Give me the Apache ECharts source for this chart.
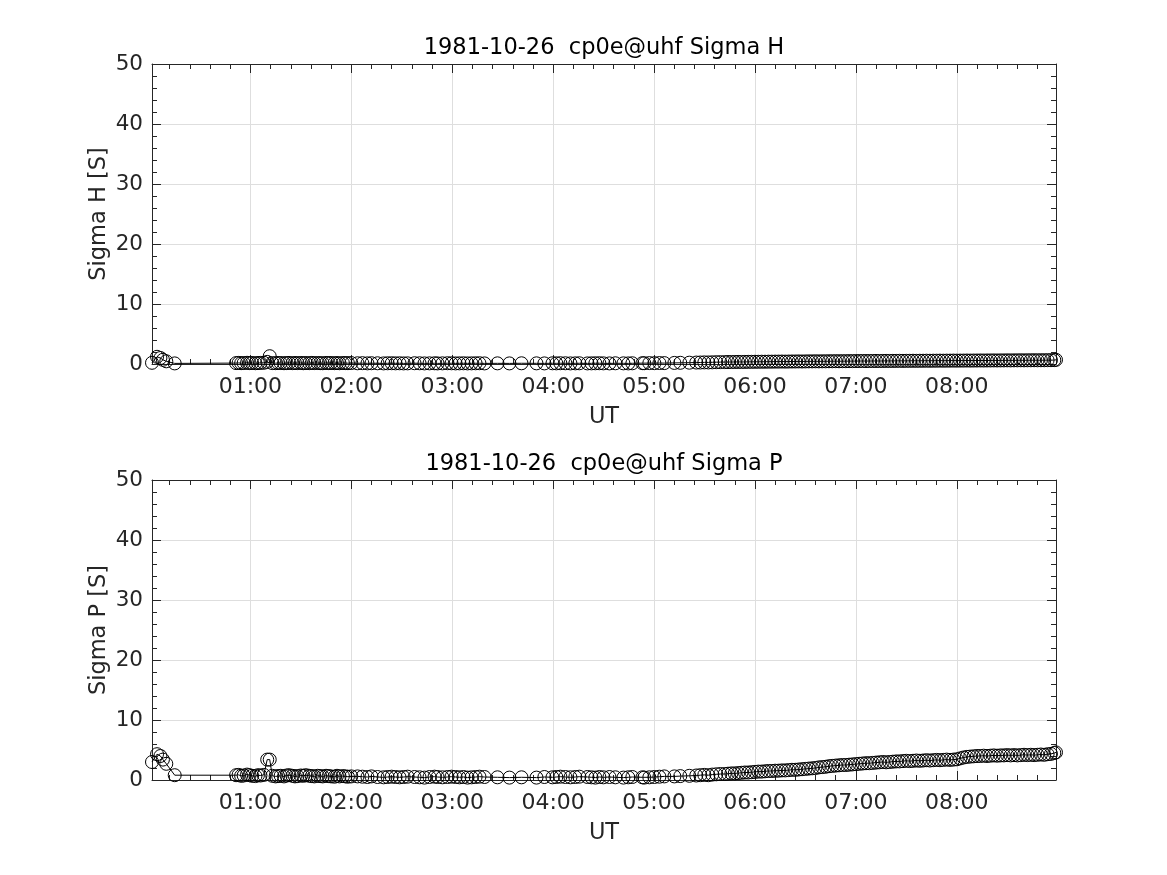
<!DOCTYPE html>
<html>
<head>
<meta charset="utf-8">
<script src="https://cdn.jsdelivr.net/npm/echarts@6/dist/echarts.min.js"></script>
<style>
html,body{margin:0;padding:0;background:#fff;}
#chart{width:1167px;height:875px;}
</style>
</head>
<body>
<div id="chart"></div>
<script>
// ---- data (time in minutes after 00:00 UT) ----
const dateLabel = '1981-10-26';
const expLabel = 'cp0e@uhf';
const titles = ['Sigma H', 'Sigma P'];
const yLabels = ['Sigma H [S]', 'Sigma P [S]'];
const xLabel = 'UT';
const hourTicks = [60, 120, 180, 240, 300, 360, 420, 480];
const yTicks = [0, 10, 20, 30, 40, 50];

const timesMin = [
  1.5, 4.5, 6.5, 8, 10, 15,
  51.5, 53, 54.5, 56, 58, 59.5, 61, 63, 64.5, 66,
  68, 70, 71.5, 73, 75, 76.5, 78, 80, 81.5, 83,
  85, 86.5, 88, 90, 91.5, 93, 95, 96.5, 98, 100,
  101.5, 103, 105, 106.5, 108, 110, 111.5, 113, 115, 116.5,
  118, 120,
  123.7, 126.6, 129.6, 132, 135.6, 139.2, 141.6, 144, 146.3, 148.7,
  151.1, 153.5, 157.6, 160.6, 163.5, 166.5, 169.5, 171.3, 174.2, 177.2,
  179.6, 182, 184.3, 186.7, 189.1, 191.5, 193.9, 196.2, 199.2, 206.9,
  214, 221.2, 230.1, 234.8, 239.6, 241.9, 244.3, 247.3, 250.3, 253.2,
  255.6, 260.4, 262.8, 265.1, 267.5, 269.9, 273.5, 277, 281.8, 284.7,
  287.1, 293.1, 294.2, 297.2, 300.2, 303.2, 306.1, 312.1, 315.6, 321,
  325.1, 327.5, 329.9, 332.3, 334.6, 337, 339.4,
  342, 344, 346, 348, 350, 352, 354, 356, 358, 360,
  362, 364, 366, 368, 370, 372, 374, 376, 378, 380,
  382, 384, 386, 388, 390, 392, 394, 396, 398, 400,
  402, 404, 406, 408, 410, 412, 414, 416, 418, 420,
  422, 424, 426, 428, 430, 432, 434, 436, 438, 440,
  442, 444, 446, 448, 450, 452, 454, 456, 458, 460,
  462, 464, 466, 468, 470, 472, 474, 476, 478, 480,
  482, 484, 486, 488, 490, 492, 494, 496, 498, 500,
  502, 504, 506, 508, 510, 512, 514, 516, 518, 520,
  522, 524, 526, 528, 530, 532, 534, 536, 538, 539
];

const sigmaH = [
  0.2, 1.2, 1.0, 0.7, 0.45, 0.1,
  0.15, 0.18, 0.14, 0.16, 0.2, 0.15, 0.17, 0.13, 0.16, 0.18,
  0.2, 0.35, 1.3, 0.15, 0.14, 0.17, 0.16, 0.13, 0.15, 0.18,
  0.14, 0.16, 0.15, 0.17, 0.13, 0.16, 0.14, 0.18, 0.15, 0.16,
  0.14, 0.13, 0.17, 0.15, 0.16, 0.14, 0.15, 0.13, 0.16, 0.15,
  0.14, 0.16,
  0.12, 0.14, 0.11, 0.13, 0.12, 0.1, 0.12, 0.13, 0.11, 0.12,
  0.1, 0.11, 0.13, 0.12, 0.1, 0.11, 0.12, 0.1, 0.11, 0.13,
  0.12, 0.1, 0.11, 0.12, 0.1, 0.11, 0.12, 0.13, 0.1, 0.11,
  0.1, 0.12, 0.11, 0.1, 0.12, 0.11, 0.13, 0.12, 0.1, 0.11,
  0.12, 0.1, 0.11, 0.12, 0.13, 0.11, 0.1, 0.12, 0.11, 0.1,
  0.12, 0.14, 0.13, 0.15, 0.14, 0.16, 0.15, 0.18, 0.2, 0.22,
  0.24, 0.25, 0.27, 0.26, 0.28, 0.3, 0.31,
  0.32, 0.33, 0.33, 0.34, 0.35, 0.34, 0.35, 0.36, 0.36, 0.37,
  0.37, 0.38, 0.38, 0.39, 0.39, 0.4, 0.4, 0.41, 0.4, 0.41,
  0.42, 0.42, 0.43, 0.42, 0.43, 0.44, 0.44, 0.45, 0.44, 0.45,
  0.45, 0.46, 0.46, 0.47, 0.46, 0.47, 0.47, 0.48, 0.48, 0.49,
  0.49, 0.5, 0.49, 0.5, 0.5, 0.51, 0.5, 0.51, 0.52, 0.51,
  0.52, 0.52, 0.53, 0.52, 0.53, 0.53, 0.54, 0.53, 0.54, 0.54,
  0.55, 0.54, 0.55, 0.55, 0.56, 0.55, 0.56, 0.56, 0.57, 0.56,
  0.57, 0.57, 0.58, 0.57, 0.58, 0.58, 0.59, 0.58, 0.59, 0.59,
  0.6, 0.59, 0.6, 0.6, 0.61, 0.6, 0.61, 0.61, 0.62, 0.61,
  0.62, 0.62, 0.63, 0.62, 0.63, 0.63, 0.64, 0.64, 0.65, 0.7
];

const sigmaP = [
  3.0, 4.3, 4.0, 3.4, 2.7, 0.8,
  0.8, 0.85, 0.7, 0.75, 0.9, 0.8, 0.7, 0.65, 0.8, 0.75,
  0.85, 3.4, 3.4, 0.7, 0.6, 0.65, 0.7, 0.6, 0.75, 0.8,
  0.7, 0.6, 0.65, 0.75, 0.7, 0.8, 0.7, 0.65, 0.6, 0.7,
  0.65, 0.6, 0.7, 0.65, 0.6, 0.55, 0.7, 0.6, 0.65, 0.6,
  0.55, 0.6,
  0.6, 0.55, 0.5, 0.6, 0.5, 0.45, 0.5, 0.55, 0.5, 0.45,
  0.5, 0.55, 0.5, 0.45, 0.4, 0.5, 0.55, 0.5, 0.45, 0.5,
  0.55, 0.5, 0.45, 0.5, 0.4, 0.45, 0.5, 0.55, 0.5, 0.45,
  0.4, 0.45, 0.4, 0.5, 0.45, 0.5, 0.55, 0.5, 0.45, 0.5,
  0.55, 0.5, 0.45, 0.4, 0.5, 0.45, 0.5, 0.45, 0.4, 0.45,
  0.5, 0.45, 0.4, 0.45, 0.5, 0.55, 0.6, 0.6, 0.65, 0.7,
  0.75, 0.8, 0.85, 0.8, 0.9, 0.95, 1.0,
  1.0, 1.05, 1.1, 1.1, 1.15, 1.2, 1.25, 1.25, 1.3, 1.35,
  1.4, 1.4, 1.45, 1.5, 1.5, 1.55, 1.55, 1.6, 1.6, 1.65,
  1.7, 1.7, 1.75, 1.8, 1.85, 1.9, 1.95, 2.0, 2.1, 2.15,
  2.2, 2.3, 2.35, 2.4, 2.45, 2.5, 2.5, 2.55, 2.6, 2.65,
  2.7, 2.75, 2.8, 2.8, 2.85, 2.9, 2.95, 3.0, 2.95, 3.0,
  3.05, 3.1, 3.1, 3.15, 3.2, 3.15, 3.2, 3.25, 3.2, 3.25,
  3.3, 3.25, 3.3, 3.35, 3.3, 3.35, 3.4, 3.35, 3.4, 3.45,
  3.6, 3.75, 3.85, 3.9, 3.95, 4.0, 4.0, 4.05, 4.0, 4.05,
  4.1, 4.05, 4.1, 4.1, 4.15, 4.1, 4.15, 4.1, 4.15, 4.2,
  4.15, 4.2, 4.15, 4.2, 4.25, 4.2, 4.3, 4.35, 4.5, 4.6
];

// ---- layout / style ----
const FONT = 'DejaVu Sans';
const AX = '#262626';
const GRIDC = '#dedede';
const xMin = 1.5, xMax = 539;
const minorXTicks = [];
for (let m = 12; m < xMax; m += 12) if (m % 60 !== 0) minorXTicks.push(m);

function hhmm(v) {
  const h = Math.floor(v / 60), m = Math.round(v - h * 60);
  return String(h).padStart(2, '0') + ':' + String(m).padStart(2, '0');
}

const grids = [
  { left: 152, top: 64, width: 904, height: 300 },
  { left: 152, top: 480, width: 904, height: 300 }
];

const xAxes = [], yAxes = [], series = [], graphics = [];
grids.forEach((g, gi) => {
  const base = { type: 'value', gridIndex: gi, min: xMin, max: xMax };
  // bottom main
  xAxes.push(Object.assign({}, base, {
    position: 'bottom',
    axisLine: { show: true, onZero: false, lineStyle: { color: AX, width: 1 } },
    axisTick: { show: true, inside: true, length: 9, customValues: hourTicks, lineStyle: { color: AX } },
    axisLabel: { show: true, customValues: hourTicks, formatter: hhmm, fontSize: 22, fontFamily: FONT, color: AX, margin: 12 },
    splitLine: { show: true, lineStyle: { color: GRIDC, width: 1 } },
    name: xLabel, nameLocation: 'middle', nameGap: 42,
    nameTextStyle: { fontSize: 22.5, fontFamily: FONT, color: AX }
  }));
  // bottom minor
  xAxes.push(Object.assign({}, base, {
    position: 'bottom',
    axisLine: { show: false, onZero: false },
    axisTick: { show: true, inside: true, length: 5, customValues: minorXTicks, lineStyle: { color: AX } },
    axisLabel: { show: false }, splitLine: { show: false }
  }));
  // top main
  xAxes.push(Object.assign({}, base, {
    position: 'top',
    axisLine: { show: true, onZero: false, lineStyle: { color: AX, width: 1 } },
    axisTick: { show: true, inside: true, length: 9, customValues: hourTicks, lineStyle: { color: AX } },
    axisLabel: { show: false }, splitLine: { show: false }
  }));
  // top minor
  xAxes.push(Object.assign({}, base, {
    position: 'top',
    axisLine: { show: false, onZero: false },
    axisTick: { show: true, inside: true, length: 5, customValues: minorXTicks, lineStyle: { color: AX } },
    axisLabel: { show: false }, splitLine: { show: false }
  }));
  const yBase = { type: 'value', gridIndex: gi, min: yTicks[0], max: yTicks[yTicks.length - 1], interval: 10 };
  yAxes.push(Object.assign({}, yBase, {
    position: 'left',
    axisLine: { show: true, onZero: false, lineStyle: { color: AX, width: 1 } },
    axisTick: { show: true, inside: true, length: 9, lineStyle: { color: AX } },
    minorTick: { show: true, splitNumber: 5, length: 5, lineStyle: { color: AX } },
    axisLabel: { show: true, fontSize: 21.5, fontFamily: FONT, color: AX, margin: 9 },
    splitLine: { show: true, showMinLine: false, showMaxLine: false, lineStyle: { color: GRIDC, width: 1 } },
    name: yLabels[gi], nameLocation: 'middle', nameGap: 41, nameRotate: 90,
    nameMoveOverlap: false,
    nameTextStyle: { fontSize: 22.5, fontFamily: FONT, color: AX }
  }));
  yAxes.push(Object.assign({}, yBase, {
    position: 'right',
    axisLine: { show: true, onZero: false, lineStyle: { color: AX, width: 1 } },
    axisTick: { show: true, inside: true, length: 9, lineStyle: { color: AX } },
    minorTick: { show: true, splitNumber: 5, length: 5, lineStyle: { color: AX } },
    axisLabel: { show: false }, splitLine: { show: false }
  }));
  const vals = gi === 0 ? sigmaH : sigmaP;
  series.push({
    type: 'line',
    xAxisIndex: gi * 4, yAxisIndex: gi * 2,
    data: timesMin.map((t, i) => [t, vals[i]]),
    symbol: 'circle', symbolSize: 13,
    showAllSymbol: true,
    itemStyle: { color: 'rgba(0,0,0,0)', borderColor: '#000', borderWidth: 1 },
    lineStyle: { color: '#000', width: 1 },
    emphasis: { disabled: true },
    clip: false,
    silent: true
  });
  graphics.push({
    type: 'text',
    x: g.left + g.width / 2, y: g.top - 16,
    style: {
      text: dateLabel + '  ' + expLabel + ' ' + titles[gi],
      fontSize: 22.5, fontFamily: FONT, fill: '#000',
      textAlign: 'center', textVerticalAlign: 'middle'
    }
  });
});

const chart = echarts.init(document.getElementById('chart'), null, { renderer: 'canvas' });
chart.setOption({
  backgroundColor: '#fff',
  animation: false,
  grid: grids,
  xAxis: xAxes,
  yAxis: yAxes,
  series: series,
  graphic: graphics
});
</script>
</body>
</html>
